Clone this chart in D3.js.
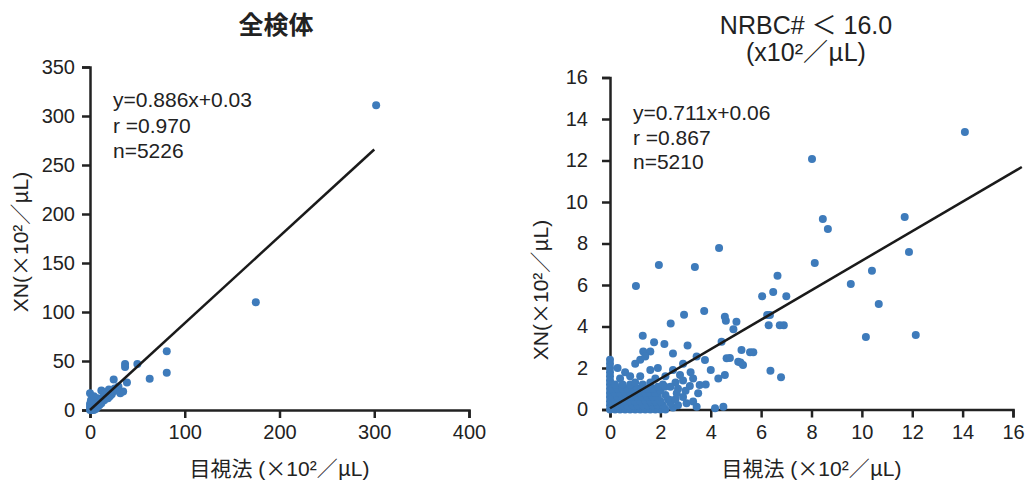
<!DOCTYPE html>
<html lang="ja">
<head>
    <meta charset="UTF-8">
    <title>XN vs 目視法</title>
    <script src="https://d3js.org/d3.v7.min.js"></script>
    <style>
        body { margin: 0; background: #fff; }
        svg { font-family: "Liberation Sans", Arial, "Noto Sans CJK JP", sans-serif; }
        .axis path, .axis line { stroke: #222; stroke-width: 2.5; }
        .axis text { font-size: 20px; fill: #222; font-family: "Liberation Sans", Arial, sans-serif; }
        .dot { fill: #3e7bbb; }
        .fit { stroke: #1a1a1a; stroke-width: 2.5; fill: none; }
        .note { font-size: 21px; fill: #222; }
        .title { font-size: 25px; fill: #222; }
        .label { font-size: 21px; fill: #222; }
        .cjk { font-family: "Noto Sans CJK JP", sans-serif; }
    </style>
</head>
<body>
<svg width="1030" height="485"></svg>
<script>
// tick values
const leftXTicks = [0, 100, 200, 300, 400];
const leftYTicks = [0, 50, 100, 150, 200, 250, 300, 350];
const rightXTicks = [0, 2, 4, 6, 8, 10, 12, 14, 16];
const rightYTicks = [0, 2, 4, 6, 8, 10, 12, 14, 16];

// regression lines (start x, end x) and coefficients
const leftFit = { slope: 0.886, icpt: 0.03, from: 0, to: 300 };
const rightFit = { slope: 0.711, icpt: 0.06, from: 0, to: 16.35 };

const leftNotes = ["y=0.886x+0.03", "r =0.970", "n=5226"];
const rightNotes = ["y=0.711x+0.06", "r =0.867", "n=5210"];

// text pieces: [text, cjk font?]
const xLabel = [["目視法", 1], [" (", 0], ["×", 1], ["10²", 0], ["／", 1], ["μ", 1], ["L)", 0]];
const yLabel = [["XN(", 0], ["×", 1], ["10²", 0], ["／", 1], ["μ", 1], ["L)", 0]];
const rightTitle = [["NRBC# ", 0], ["＜", 1], [" 16.0", 0]];
const unitLine = [["(x10²", 0], ["／", 1], ["μ", 1], ["L)", 0]];

// [目視法, XN]
const leftPoints = [
    [302, 311], [175, 110], [81, 60], [81, 38], [63, 32], [50, 47], [37, 47], [37, 44],
    [39, 28], [35, 19], [32, 17], [25, 31], [12, 20], [0, 17], [18, 18],
    [0, 0], [1, 1], [2, 0], [3, 2], [4, 4], [5, 3], [6, 5], [7, 6], [8, 8], [9, 7],
    [10, 9], [11, 10], [12, 11], [13, 12], [14, 13], [15, 14], [16, 15], [17, 15],
    [18, 16], [20, 17], [22, 18], [23, 16], [21, 14], [19, 12], [15, 10], [12, 7],
    [10, 5], [8, 3], [6, 1], [4, 0], [2, 3], [1, 5], [0, 3], [0, 6], [3, 8], [5, 9],
    [1, 10], [20, 21], [26, 22], [28, 20], [30, 24], [24, 19], [16, 18], [8, 12], [4, 14]
];

const rightPoints = [
    [0, 0], [0, 0.2], [0, 0.4], [0, 0.6], [0, 0.8], [0, 1.0], [0, 1.2], [0, 1.4], [0, 1.6],
    [0, 1.8], [0, 2.0], [0, 2.2], [0, 2.4],
    [0.2, 0], [0.4, 0], [0.6, 0], [0.8, 0], [1.0, 0], [1.2, 0], [1.4, 0], [1.6, 0], [1.8, 0],
    [2.0, 0], [2.2, 0], [2.5, 0.1],
    [0.1, 0.2], [0.3, 0.2], [0.5, 0.2], [0.7, 0.2], [0.9, 0.2], [1.1, 0.2], [1.3, 0.2],
    [1.5, 0.2], [1.7, 0.2], [1.9, 0.2], [2.1, 0.2], [2.4, 0.3],
    [0.2, 0.4], [0.4, 0.4], [0.6, 0.4], [0.8, 0.4], [1.0, 0.4], [1.2, 0.4], [1.4, 0.4],
    [1.6, 0.4], [1.8, 0.4], [2.0, 0.4], [2.3, 0.5],
    [0.1, 0.6], [0.3, 0.6], [0.5, 0.6], [0.7, 0.6], [0.9, 0.6], [1.1, 0.6], [1.3, 0.6],
    [1.5, 0.6], [1.7, 0.6], [1.9, 0.6], [2.2, 0.7],
    [0.2, 0.8], [0.4, 0.8], [0.6, 0.8], [0.8, 0.8], [1.0, 0.8], [1.2, 0.8], [1.4, 0.8],
    [1.6, 0.8], [1.8, 0.8], [2.0, 0.9],
    [0.1, 1.0], [0.3, 1.0], [0.5, 1.0], [0.7, 1.0], [0.9, 1.0], [1.1, 1.0], [1.3, 1.0],
    [1.5, 1.0], [1.7, 1.0], [1.9, 1.1],
    [0.2, 1.2], [0.5, 1.2], [0.8, 1.2], [1.0, 1.3], [1.3, 1.2], [1.6, 1.3], [2.1, 1.2],
    [0.6, 1.8], [1.0, 2.2], [1.2, 2.4], [1.32, 2.8], [1.6, 2.8], [1.4, 2.55], [0.4, 1.5],
    [0.8, 1.6], [1.2, 1.6], [1.6, 1.9], [1.9, 2.0], [0.3, 2.0], [1.8, 1.5], [2.2, 1.6],
    [2.18, 1.1], [2.38, 0.46], [2.65, 0.78], [3.04, 0.3], [3.17, 1.13], [2.78, 1.66],
    [2.5, 2.7], [2.6, 1.3], [2.4, 1.1], [2.9, 2.2], [3.44, 2.55], [3.77, 2.39], [3.56, 1.18],
    [3.5, 0.78], [3.3, 0.38], [3.44, 0.13], [4.17, 0.06], [4.5, 0.13], [4.56, 1.66],
    [4.3, 1.5], [4.63, 2.47], [5.09, 2.3], [2.7, 0.2], [3.0, 0.9], [2.9, 1.4], [3.2, 1.8],
    [3.8, 1.2], [4.0, 1.9], [2.6, 0.5], [2.9, 0.6], [3.3, 1.5], [2.5, 1.9], [2.7, 1.0],
    [1.3, 3.56], [1.75, 3.24], [2.16, 3.16], [3.08, 3.08], [4.43, 3.27], [3.74, 4.75],
    [2.94, 4.57], [2.41, 4.15], [4.56, 4.47], [4.6, 4.28], [5.02, 4.23], [4.9, 3.87],
    [1.03, 5.95], [1.94, 6.96], [3.37, 6.87], [4.33, 7.78],
    [5.22, 2.87], [5.56, 2.76], [5.69, 2.76], [5.18, 2.26], [5.28, 2.14], [4.76, 2.48],
    [6.37, 1.87], [6.79, 1.55], [6.24, 4.55], [6.35, 4.55], [6.3, 4.06], [6.74, 4.06],
    [6.9, 4.06], [6.04, 5.46], [6.48, 5.66], [7.0, 5.46], [6.65, 6.45], [8.02, 12.07],
    [8.45, 9.18], [8.65, 8.7], [11.7, 9.28], [11.87, 7.59], [8.13, 7.06], [10.4, 6.69],
    [9.56, 6.05], [10.67, 5.08], [10.16, 3.49], [12.14, 3.59], [14.09, 13.37]
];

const svg = d3.select("svg");

function mixed(sel, pieces) {
    pieces.forEach(([t, cjk]) => {
        sel.append("tspan").attr("class", cjk ? "cjk" : null).text(t);
    });
}

function drawPanel(o) {
    const x = d3.scaleLinear().domain(o.xDomain).range(o.xRange);
    const y = d3.scaleLinear().domain(o.yDomain).range(o.yRange);
    const g = svg.append("g");

    g.append("g")
        .attr("class", "axis")
        .attr("transform", `translate(0,${o.yRange[0]})`)
        .call(d3.axisBottom(x).tickValues(o.xTicks).tickSize(8).tickPadding(7));

    g.append("g")
        .attr("class", "axis")
        .attr("transform", `translate(${o.xRange[0]},0)`)
        .call(d3.axisLeft(y).tickValues(o.yTicks).tickSize(8).tickPadding(o.yPad));

    g.selectAll(".dot")
        .data(o.points)
        .join("circle")
        .attr("class", "dot")
        .attr("cx", d => x(d[0]))
        .attr("cy", d => y(d[1]))
        .attr("r", 4);

    const f = o.fit;
    g.append("line")
        .attr("class", "fit")
        .attr("x1", x(f.from)).attr("y1", y(f.slope * f.from + f.icpt))
        .attr("x2", x(f.to)).attr("y2", y(f.slope * f.to + f.icpt));

    g.selectAll(".note")
        .data(o.notes)
        .join("text")
        .attr("class", "note")
        .attr("x", o.noteX)
        .attr("y", (d, i) => o.noteY + i * o.noteGap)
        .text(d => d);

    const cx = (o.xRange[0] + o.xRange[1]) / 2;
    g.append("text")
        .attr("class", "label")
        .attr("x", cx)
        .attr("y", 476)
        .attr("text-anchor", "middle")
        .call(mixed, xLabel);

    g.append("text")
        .attr("class", "label")
        .attr("transform", `translate(${o.yLabelX},${o.yLabelY}) rotate(-90)`)
        .attr("text-anchor", "middle")
        .call(mixed, yLabel);

    o.title.forEach((t, i) => {
        const tt = g.append("text")
            .attr("class", "title")
            .attr("x", o.titleX)
            .attr("y", 34 + i * 27)
            .attr("text-anchor", "middle");
        if (Array.isArray(t)) tt.call(mixed, t);
        else tt.text(t);
        if (o.titleBold && i === 0) tt.attr("font-weight", "bold");
    });
}

drawPanel({
    xDomain: [0, 400], xRange: [90, 469],
    yDomain: [0, 350], yRange: [410, 67],
    xTicks: leftXTicks, yTicks: leftYTicks, yPad: 7,
    points: leftPoints, fit: leftFit, notes: leftNotes,
    noteX: 113, noteY: 107, noteGap: 25.5,
    yLabelX: 28, yLabelY: 242,
    title: ["全検体"], titleX: 276, titleBold: true
});

drawPanel({
    xDomain: [0, 16], xRange: [610, 1013],
    yDomain: [0, 16], yRange: [409.5, 77.5],
    xTicks: rightXTicks, yTicks: rightYTicks, yPad: 14,
    points: rightPoints, fit: rightFit, notes: rightNotes,
    noteX: 633, noteY: 120, noteGap: 24.5,
    yLabelX: 548, yLabelY: 290,
    title: [rightTitle, unitLine], titleX: 806
});
</script>
</body>
</html>
